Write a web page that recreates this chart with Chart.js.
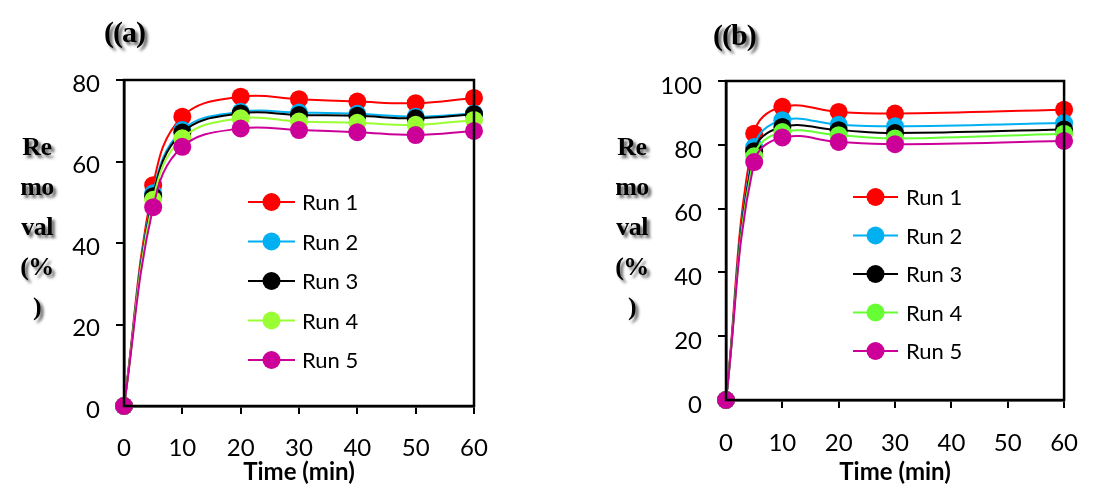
<!DOCTYPE html>
<html><head><meta charset="utf-8">
<script src="https://cdn.jsdelivr.net/npm/chart.js@4.4.1/dist/chart.umd.min.js"></script>
<style>
html,body{margin:0;padding:0;background:#fff;}
#wrap{position:relative;width:1099px;height:488px;overflow:hidden;background:#fff;}
canvas{position:absolute;top:0;}
.ttl{position:absolute;font-family:"Liberation Serif","Times New Roman",serif;font-weight:bold;color:#000;text-shadow:3px 3px 3px rgba(0,0,0,0.6);white-space:nowrap;}
.ylab{text-align:center;font-size:26px;line-height:40px;width:60px;letter-spacing:-0.5px;}
.panel{font-size:30px;line-height:32px;letter-spacing:-1px;}
</style></head><body>
<div id="wrap">
<canvas id="ca" width="550" height="488" style="left:0"></canvas>
<canvas id="cb" width="549" height="488" style="left:550px"></canvas>
<div class="ttl panel" style="left:104px;top:16px">((a)</div>
<div class="ttl panel" style="left:713px;top:19px">((b)</div>
<div class="ttl ylab" style="left:7px;top:127px">Re<br>mo<br>val<br>(%<br>)</div>
<div class="ttl ylab" style="left:602px;top:127px">Re<br>mo<br>val<br>(%<br>)</div>
</div>
<script>
// ---- data ----
const runLabels = ['Run 1', 'Run 2', 'Run 3', 'Run 4', 'Run 5'];
const timeA = [0, 5, 10, 20, 30, 40, 50, 60];
const a1 = [0, 54.2, 71.0, 75.9, 75.3, 74.7, 74.3, 75.6];
const a2 = [0, 52.2, 67.7, 72.2, 72.0, 71.7, 71.0, 71.8];
const a3 = [0, 51.5, 67.1, 71.8, 71.4, 71.2, 70.6, 71.6];
const a4 = [0, 50.6, 65.7, 70.6, 69.8, 69.5, 69.0, 70.2];
const a5 = [0, 48.8, 63.6, 68.1, 67.7, 67.2, 66.5, 67.5];
const timeB = [0, 5, 10, 20, 30, 60];
const b1 = [0, 83.5, 91.9, 90.3, 89.8, 91.0];
const b2 = [0, 79.3, 87.7, 86.3, 85.8, 86.8];
const b3 = [0, 78.0, 85.6, 84.6, 83.7, 84.8];
const b4 = [0, 76.4, 84.0, 83.0, 82.0, 83.5];
const b5 = [0, 74.6, 82.3, 80.9, 80.2, 81.2];
const xTicksStep = 10;
const yMaxA = 80, yMaxB = 100, yStep = 20;
const colorsA = ['#FF0000', '#00B0F0', '#000000', '#99FF33', '#CC0099'];
const colorsB = ['#FF0000', '#00B0F0', '#000000', '#66FF33', '#CC0099'];

const FAM = 'Lato, "Open Sans", sans-serif';
const TICK_FONT = {family: FAM, size: 24};

function mkDatasets(times, series, colors) {
  return series.map((s, i) => ({
    label: runLabels[i],
    data: s.map((v, j) => ({x: times[j], y: v})),
    borderColor: colors[i],
    backgroundColor: colors[i],
    pointBackgroundColor: colors[i],
    pointBorderColor: colors[i],
    pointBorderWidth: 0,
    pointRadius: 9,
    borderWidth: 2,
    tension: 0.4,
    clip: false,
    order: series.length - i
  }));
}

const framePlugin = {
  id: 'frame',
  afterDraw(chart, args, o) {
    const {ctx, chartArea: a} = chart;
    ctx.save();
    ctx.strokeStyle = '#000';
    ctx.lineWidth = 2.5;
    ctx.strokeRect(a.left, a.top, a.right - a.left, a.bottom - a.top);
    // legend
    const lg = o.legend;
    ctx.font = '22px ' + FAM;
    ctx.textBaseline = 'middle';
    ctx.textAlign = 'left';
    chart.data.datasets.forEach((ds, i) => {
      const y = lg.y0 + i * lg.dy;
      ctx.strokeStyle = ds.borderColor;
      ctx.lineWidth = 2;
      ctx.beginPath();
      ctx.moveTo(lg.x1, y); ctx.lineTo(lg.x2, y); ctx.stroke();
      ctx.fillStyle = ds.borderColor;
      ctx.beginPath();
      ctx.arc((lg.x1 + lg.x2) / 2, y, 9, 0, Math.PI * 2);
      ctx.fill();
      ctx.fillStyle = '#000';
      ctx.fillText(ds.label, lg.tx, y + 1);
    });
    ctx.restore();
  }
};

function mkChart(id, times, series, colors, yMax, cfg) {
  return new Chart(document.getElementById(id), {
    type: 'line',
    data: {datasets: mkDatasets(times, series, colors)},
    plugins: [framePlugin],
    options: {
      responsive: false,
      animation: false,
      devicePixelRatio: 1,
      layout: {padding: {left: 0, right: cfg.padRight, top: cfg.padTop, bottom: 0}},
      plugins: {legend: {display: false}, tooltip: {enabled: false}, frame: {legend: cfg.legend}},
      scales: {
        x: {
          type: 'linear', min: 0, max: 60, z: 1,
          ticks: {stepSize: xTicksStep, color: '#000', font: TICK_FONT, padding: cfg.xPad, maxRotation: 0},
          grid: {display: true, drawOnChartArea: false, drawTicks: true, tickLength: 8, color: '#000', lineWidth: 2},
          border: {display: true, color: '#000', width: 2.5},
          title: {display: true, text: 'Time (min)', color: '#000',
                  font: {family: FAM, size: 24, weight: 'bold'},
                  padding: {top: 0, bottom: 1}},
          afterFit: s => { s.height = cfg.xH; }
        },
        y: {
          type: 'linear', min: 0, max: yMax, z: 1,
          ticks: {stepSize: yStep, color: '#000', font: TICK_FONT, padding: 16, labelOffset: cfg.yOff},
          grid: {display: true, drawOnChartArea: false, drawTicks: true, tickLength: 8, color: '#000', lineWidth: 2},
          border: {display: true, color: '#000', width: 2.5},
          afterFit: s => { s.width = cfg.yW; }
        }
      }
    }
  });
}

mkChart('ca', timeA, [a1, a2, a3, a4, a5], colorsA, yMaxA, {
  padRight: 76, padTop: 80, xH: 82, yW: 124, xPad: 20, yOff: 4,
  legend: {x1: 248, x2: 295, tx: 302, y0: 202, dy: 39.5}
});
mkChart('cb', timeB, [b1, b2, b3, b4, b5], colorsB, yMaxB, {
  padRight: 33, padTop: 81, xH: 88, yW: 176, xPad: 21, yOff: 5,
  legend: {x1: 303, x2: 348, tx: 356, y0: 197, dy: 38.5}
});
</script>
</body></html>
